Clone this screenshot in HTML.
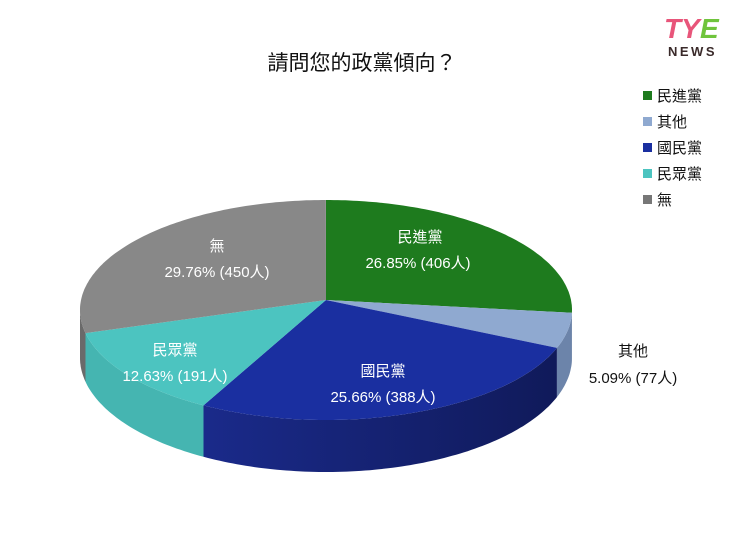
<!DOCTYPE html>
<html><head><meta charset="utf-8"><style>
body{margin:0;background:#fff;}
svg text{font-family:"Liberation Sans","Noto Sans CJK TC",sans-serif;}
</style></head><body>
<svg width="740" height="555" viewBox="0 0 740 555" xmlns="http://www.w3.org/2000/svg">
<defs>
<linearGradient id="gb" x1="0" x2="1"><stop offset="0" stop-color="#1a2a8a"/><stop offset="1" stop-color="#101a5a"/></linearGradient>
</defs>
<text x="362" y="70" font-size="21" text-anchor="middle" fill="#111">請問您的政黨傾向？</text>
<text x="664" y="38" font-size="28" font-weight="bold" font-style="italic" fill="#e8557a">TY</text>
<text x="700" y="38" font-size="28" font-weight="bold" font-style="italic" fill="#6fc43c">E</text>
<text x="668" y="56" font-size="13" font-weight="bold" fill="#3a2a2a" letter-spacing="2.5">NEWS</text>
<g id="pie"></g>
<g font-size="15" fill="#fff" text-anchor="middle">
<text x="420" y="242">民進黨</text><text x="418" y="268">26.85% (406人)</text>
<text x="217" y="251">無</text><text x="217" y="277">29.76% (450人)</text>
<text x="175" y="355">民眾黨</text><text x="175" y="381">12.63% (191人)</text>
<text x="383" y="376">國民黨</text><text x="383" y="402">25.66% (388人)</text>
</g>
<g font-size="15" fill="#111" text-anchor="middle">
<text x="633" y="356">其他</text><text x="633" y="383">5.09% (77人)</text>
</g>
<g font-size="15" fill="#111">
<rect x="643" y="91" width="9" height="9" fill="#1e7b1e"/><text x="657" y="101">民進黨</text>
<rect x="643" y="117" width="9" height="9" fill="#8fa9d0"/><text x="657" y="127">其他</text>
<rect x="643" y="143" width="9" height="9" fill="#1a2fa0"/><text x="657" y="153">國民黨</text>
<rect x="643" y="169" width="9" height="9" fill="#4cc4c0"/><text x="657" y="179">民眾黨</text>
<rect x="643" y="195" width="9" height="9" fill="#777"/><text x="657" y="205">無</text>
</g>
</svg>
<script>
(function(){
var cx=326,cy=300,A=2695,B=1200,D=11,dn=52;
var data=[[26.85,"#1e7b1e","#155a15"],[5.09,"#8fa9d0","#6c84aa"],[25.66,"#1a2fa0","url(#gb)"],[12.63,"#4cc4c0","#45b5b1"],[29.76,"#888888","#6a6a6a"]];
function P(t,bot){t=t*Math.PI/180;var X=Math.sin(t),Z=Math.cos(t),w=D+Z;
 return [(cx+A*X/w).toFixed(1),(cy-B*Z/w+(bot?dn*(D-1)/w:0)).toFixed(1)];}
function arc(a,b,bot){var pts=[],n=Math.max(2,Math.ceil(Math.abs(b-a)));for(var i=0;i<=n;i++)pts.push(P(a+(b-a)*i/n,bot).join(","));return pts;}
var g=document.getElementById("pie"),s="",top="",a=0;
data.forEach(function(x){
 var b=a+x[0]*3.6;
 var sa=Math.max(a,95),sb=Math.min(b,265);
 if(sb>sa){var pts=arc(sa,sb,false).concat(arc(sb,sa,true));
  s+='<polygon points="'+pts.join(" ")+'" fill="'+x[2]+'"/>';}
 top+='<polygon points="'+cx+','+cy+' '+arc(a,b,false).join(" ")+'" fill="'+x[1]+'"/>';
 a=b;});
g.innerHTML=s+top;
})();
</script>
</body></html>
